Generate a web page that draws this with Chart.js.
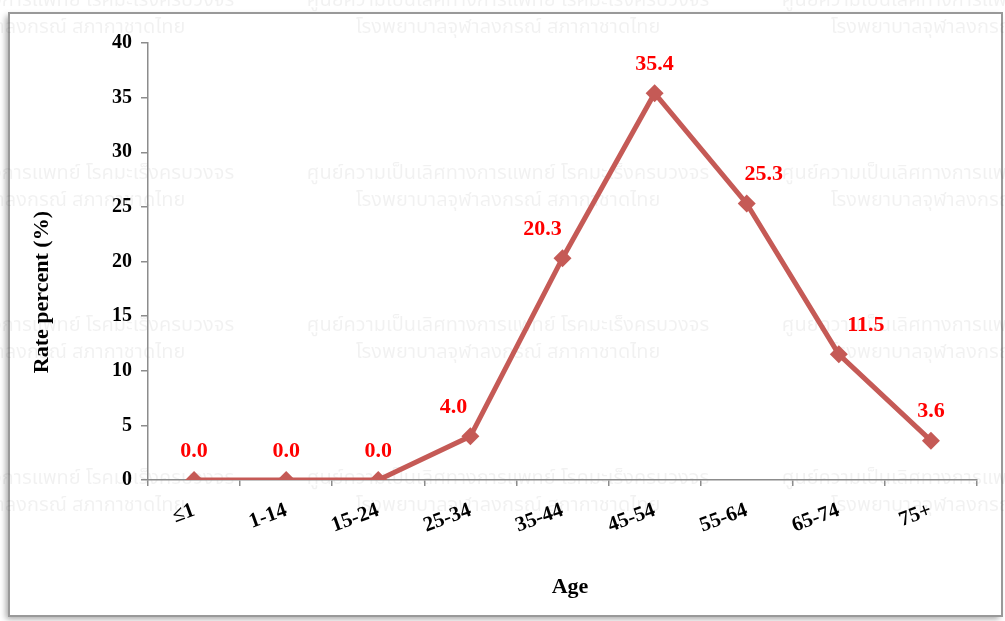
<!DOCTYPE html>
<html>
<head>
<meta charset="utf-8">
<script src="https://cdn.jsdelivr.net/npm/chart.js@4.4.0/dist/chart.umd.min.js"></script>
<style>
  html, body { margin: 0; padding: 0; background: #fff; }
  #wrap { width: 1005px; height: 621px; position: relative; }
</style>
</head>
<body>
<div id="wrap"><canvas id="myChart"></canvas></div>
<script>
// data
const ageGroups = ['\u22641', '1-14', '15-24', '25-34', '35-44', '45-54', '55-64', '65-74', '75+'];
const ratePercent = [0.0, 0.0, 0.0, 4.0, 20.3, 35.4, 25.3, 11.5, 3.6];
const yTicks = [0, 5, 10, 15, 20, 25, 30, 35, 40];
const xTitle = 'Age';
const yTitle = 'Rate percent (%)';

// label nudges (pixels) like the hand-placed excel labels
const labelShiftX = [0, 0, 0, -17, -20, 0, 17, 27, 0];

const serif = "'Liberation Serif', 'Times New Roman', serif";
const lineColor = '#C55A56';

const frameAndWatermark = {
  id: 'frameAndWatermark',
  beforeDraw(chart) {
    const c = chart.ctx;
    c.save();
    // frame with soft shadow
    c.shadowColor = 'rgba(0,0,0,0.35)';
    c.shadowBlur = 6;
    c.shadowOffsetX = -3;
    c.shadowOffsetY = 3;
    c.fillStyle = '#fff';
    c.fillRect(9, 13, 993, 603);
    c.shadowColor = 'transparent';
    c.strokeStyle = '#999';
    c.lineWidth = 2;
    c.strokeRect(9, 13, 993, 603);
    // watermark
    c.fillStyle = 'rgba(0,0,0,0.055)';
    c.font = "20px 'Noto Sans Thai', 'Loma', 'Garuda', sans-serif";
    c.textAlign = 'center';
    c.textBaseline = 'middle';
    const line1 = 'ศูนย์ความเป็นเลิศทางการแพทย์ โรคมะเร็งครบวงจร';
    const line2 = 'โรงพยาบาลจุฬาลงกรณ์ สภากาชาดไทย';
    const rows = [2, 175, 327, 480];
    const cols = [33, 508, 983];
    rows.forEach(ry => cols.forEach(cx => {
      c.fillText(line1, cx, ry);
      c.fillText(line2, cx, ry + 27);
    }));
    c.restore();
  }
};

const textBits = {
  id: 'textBits',
  afterDraw(chart) {
    const c = chart.ctx;
    const area = chart.chartArea;
    c.save();
    c.fillStyle = '#000';
    c.font = "bold 22px " + serif;
    c.textAlign = 'center';
    c.textBaseline = 'middle';
    // axis titles
    c.fillText(xTitle, 570, 587);
    c.translate(42, area.top + (area.bottom - area.top) * 0.57);
    c.rotate(-Math.PI / 2);
    c.fillText(yTitle, 0, 0);
    c.restore();
  },
  afterDatasetsDraw(chart) {
    const c = chart.ctx;
    const meta = chart.getDatasetMeta(0);
    c.save();
    c.fillStyle = '#FF0000';
    c.font = "bold 22px " + serif;
    c.textAlign = 'center';
    c.textBaseline = 'middle';
    meta.data.forEach((pt, i) => {
      c.fillText(ratePercent[i].toFixed(1), pt.x + labelShiftX[i], pt.y - 29);
    });
    c.restore();
  }
};

const ctx = document.getElementById('myChart');

new Chart(ctx, {
  type: 'line',
  data: {
    labels: ageGroups,
    datasets: [{
      label: 'Rate percent',
      data: ratePercent,
      borderColor: lineColor,
      backgroundColor: lineColor,
      borderWidth: 5,
      pointStyle: 'rectRot',
      pointRadius: 9,
      pointBorderWidth: 0,
      tension: 0
    }]
  },
  options: {
    responsive: true,
    maintainAspectRatio: false,
    animation: false,
    layout: {
      padding: { top: 43, right: 28, bottom: 0, left: 0 }
    },
    plugins: {
      legend: { display: false },
      tooltip: { enabled: false }
    },
    scales: {
      x: {
        offset: true,
        afterFit(scale) { scale.height = 141; },
        grid: {
          offset: true,
          drawOnChartArea: false,
          drawTicks: true,
          tickLength: 6,
          color: '#8c8c8c',
          lineWidth: 1.5
        },
        border: { color: '#8c8c8c', width: 1.5 },
        ticks: {
          color: '#000',
          font: { family: serif, size: 21, weight: 'bold' },
          minRotation: 20,
          maxRotation: 20,
          padding: 12
        }
      },
      y: {
        min: 0,
        max: 40,
        afterFit(scale) { scale.width = 148; },
        afterBuildTicks(scale) { scale.ticks = yTicks.map(v => ({ value: v })); },
        grid: {
          drawOnChartArea: false,
          drawTicks: true,
          tickLength: 7,
          color: '#8c8c8c',
          lineWidth: 1.5
        },
        border: { color: '#8c8c8c', width: 1.5 },
        ticks: {
          color: '#000',
          font: { family: serif, size: 20, weight: 'bold' },
          padding: 9
        }
      }
    }
  },
  plugins: [frameAndWatermark, textBits]
});
</script>
</body>
</html>
